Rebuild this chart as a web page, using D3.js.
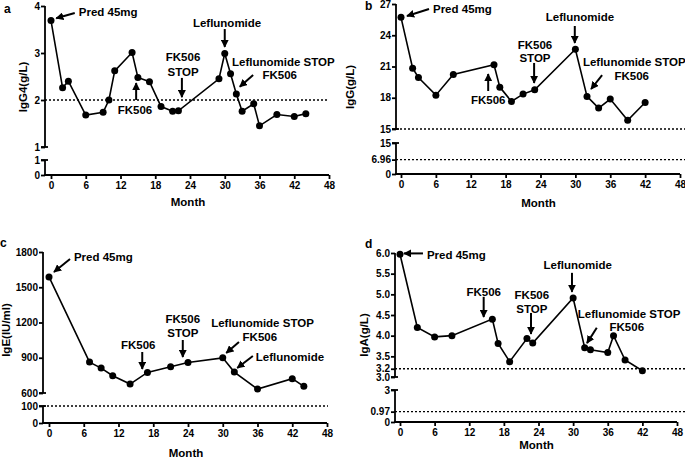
<!DOCTYPE html>
<html lang="en">
<head>
<meta charset="UTF-8">
<title>Immunoglobulin course</title>
<style>
  body { margin: 0; background: #fff; }
  svg { display: block; font-family: "Liberation Sans", Arial, sans-serif; font-weight: bold; }
  .tick text { font-size: 10px; font-weight: bold; fill: #000; }
  .tick line, .axisline { stroke: #000; stroke-width: 1.8; }
  .note { font-size: 11.5px; }
</style>
</head>
<body>
<script src="https://d3js.org/d3.v7.min.js"></script>
<script>
// month of each measurement and the measured value
const monthsA = [0, 2, 3, 6, 9, 10, 11, 14, 15, 17, 19, 21, 22, 29, 30, 31, 32, 33, 35, 36, 39, 42, 44];
const igg4    = [3.69, 2.26, 2.40, 1.68, 1.74, 2.0, 2.62, 3.01, 2.48, 2.39, 1.86, 1.76, 1.77, 2.45, 2.99, 2.56, 2.13, 1.76, 1.92, 1.45, 1.69, 1.65, 1.71];

const monthsB = [0, 2, 3, 6, 9, 16, 17, 19, 21, 23, 30, 32, 34, 36, 39, 42];
const igg     = [25.72, 20.84, 19.95, 18.25, 20.23, 21.16, 19.02, 17.65, 18.35, 18.77, 22.66, 18.13, 17.01, 17.87, 15.83, 17.55];

const monthsC = [0, 7, 9, 11, 14, 17, 21, 24, 30, 32, 36, 42, 44];
const ige     = [1588, 863, 812, 747, 676, 775, 823, 860, 899, 778, 634, 722, 657];

const monthsD = [0, 3, 6, 9, 16, 17, 19, 22, 23, 30, 32, 33, 36, 37, 39, 42];
const iga     = [5.97, 4.20, 3.97, 4.00, 4.40, 3.81, 3.37, 3.93, 3.82, 4.91, 3.71, 3.66, 3.59, 4.00, 3.41, 3.15];

const monthTicks = [0, 6, 12, 18, 24, 30, 36, 42, 48];

// broken y axes: upper and lower segment ticks
const ticksAUp = [1, 2, 3, 4],             ticksALow = [0, 1];
const ticksBUp = [15, 18, 21, 24, 27],     ticksBLow = [0, 6.96, 15];
const ticksCUp = [600, 900, 1200, 1500, 1800], ticksCLow = [0, 100];
const ticksDUp = [3.0, 3.2, 3.5, 4.0, 4.5, 5.0, 5.5, 6.0], ticksDLow = [0, 0.97, 3];

// treatment notes (month, value) and arrows (from -> tip)
const notesA = [
  { t: "Pred 45mg", m: 4.8, v: 3.79, a: "start" },
  { t: "Leflunomide", m: 30.4, v: 3.55, a: "middle" },
  { t: "Leflunomide STOP", m: 31.25, v: 2.72, a: "start" },
  { t: "FK506", m: 39.5, v: 2.45, a: "middle" },
  { t: "FK506", m: 14.5, v: 1.70, a: "middle" },
  { t: "FK506", m: 22.8, v: 2.83, a: "middle" },
  { t: "STOP", m: 22.8, v: 2.51, a: "middle" }
];
const arrowsA = [[4.1, 3.85, 0.9, 3.74], [30.0, 3.51, 30.0, 3.13], [34.9, 2.53, 32.6, 2.28],
                 [14.7, 2.0, 14.7, 2.36], [22.6, 2.47, 22.6, 2.06]];

const notesB = [
  { t: "Pred 45mg", m: 5.5, v: 26.14, a: "start" },
  { t: "Leflunomide", m: 30.8, v: 25.37, a: "middle" },
  { t: "FK506", m: 23.05, v: 22.68, a: "middle" },
  { t: "STOP", m: 23.05, v: 21.43, a: "middle" },
  { t: "Leflunomide STOP", m: 31.3, v: 21.05, a: "start" },
  { t: "FK506", m: 39.7, v: 19.70, a: "middle" },
  { t: "FK506", m: 15.0, v: 17.4, a: "middle" }
];
const arrowsB = [[4.82, 26.52, 1.03, 25.85], [29.9, 24.89, 29.9, 23.26], [22.9, 21.34, 22.9, 19.42],
                 [34.6, 20.18, 32.7, 18.84], [15.0, 18.65, 15.0, 20.28]];

const notesC = [
  { t: "Pred 45mg", m: 4.3, v: 1723, a: "start" },
  { t: "FK506", m: 15.4, v: 974, a: "middle" },
  { t: "FK506", m: 23.1, v: 1196, a: "middle" },
  { t: "STOP", m: 23.1, v: 1077, a: "middle" },
  { t: "Leflunomide STOP", m: 28.0, v: 1162, a: "start" },
  { t: "FK506", m: 36.4, v: 1043, a: "middle" },
  { t: "Leflunomide", m: 35.7, v: 872, a: "start" }
];
const arrowsC = [[3.63, 1740, 0.86, 1630], [16.1, 949, 16.1, 804], [23.1, 1051, 23.1, 906],
                 [32.8, 1034, 30.6, 940], [35.2, 915, 32.5, 813]];

const notesD = [
  { t: "Pred 45mg", m: 4.67, v: 5.855, a: "start" },
  { t: "FK506", m: 14.5, v: 4.96, a: "middle" },
  { t: "FK506", m: 22.85, v: 4.89, a: "middle" },
  { t: "STOP", m: 22.85, v: 4.55, a: "middle" },
  { t: "Leflunomide", m: 30.8, v: 5.61, a: "middle" },
  { t: "Leflunomide STOP", m: 30.8, v: 4.43, a: "start" },
  { t: "FK506", m: 39.3, v: 4.11, a: "middle" }
];
const arrowsD = [[3.98, 5.99, 0.69, 5.99], [14.5, 4.94, 14.5, 4.45], [22.7, 4.55, 22.7, 4.04],
                 [29.8, 5.52, 29.8, 5.06], [34.1, 4.19, 32.4, 3.82]];

const panels = [
  { id: "a", months: monthsA, values: igg4, yLabel: "IgG4(g/L)",
    up: ticksAUp, low: ticksALow, refUp: 2, refLow: null, notes: notesA, arrows: arrowsA,
    fmtUp: d3.format("d"), fmtLow: d3.format("d"),
    ax: 45, xr: [51, 329], ur: [147, 6], lr: [175, 160], tickY: 175, monthY: 206,
    refEnd: 329, letter: [4, 13], yl: [23, 87] },
  { id: "b", months: monthsB, values: igg, yLabel: "IgG(g/L)",
    up: ticksBUp, low: ticksBLow, refUp: 15, refLow: 6.96, notes: notesB, arrows: arrowsB,
    fmtUp: d3.format("d"), fmtLow: d => String(d),
    ax: 396, xr: [401, 680], ur: [129, 4], lr: [174, 143], tickY: 174, monthY: 207,
    refEnd: 685, letter: [365, 10], yl: [350, 87] },
  { id: "c", months: monthsC, values: ige, yLabel: "IgE(IU/ml)",
    up: ticksCUp, low: ticksCLow, refUp: null, refLow: 100, notes: notesC, arrows: arrowsC,
    fmtUp: d3.format("d"), fmtLow: d3.format("d"),
    ax: 43, xr: [49, 327], ur: [393, 252], lr: [423, 406], tickY: 423, monthY: 457,
    refEnd: 328, letter: [0, 247], yl: [6, 330] },
  { id: "d", months: monthsD, values: iga, yLabel: "IgA(g/L)",
    up: ticksDUp, low: ticksDLow, refUp: 3.2, refLow: 0.97, notes: notesD, arrows: arrowsD,
    fmtUp: d3.format(".1f"), fmtLow: d => String(d),
    ax: 395, xr: [400, 677], ur: [377, 253], lr: [422, 390], tickY: 422, monthY: 449,
    refEnd: 685, letter: [365, 248], yl: [364, 335] }
];

const svg = d3.select("body").append("svg")
  .attr("width", 685)
  .attr("height", 458);

svg.append("defs").append("marker")
  .attr("id", "head")
  .attr("viewBox", "0 0 10 10")
  .attr("refX", 9).attr("refY", 5)
  .attr("markerUnits", "userSpaceOnUse")
  .attr("markerWidth", 8).attr("markerHeight", 8)
  .attr("orient", "auto")
  .append("path")
  .attr("d", "M0,0 L10,5 L0,10 Z")
  .attr("fill", "#000");

panels.forEach(p => {
  const g = svg.append("g").attr("class", "panel-" + p.id);

  const x = d3.scaleLinear().domain([0, 48]).range(p.xr);
  const yUp = d3.scaleLinear().domain(d3.extent(p.up)).range(p.ur);
  const yLow = d3.scaleLinear().domain(d3.extent(p.low)).range(p.lr);

  // upper segment
  const upAxis = g.append("g")
    .attr("transform", `translate(${p.ax},0)`)
    .call(d3.axisLeft(yUp).tickValues(p.up).tickFormat(p.fmtUp).tickSize(4).tickSizeOuter(0));
  upAxis.select(".domain").remove();
  upAxis.selectAll(".tick text").attr("x", -5);
  g.append("line").attr("class", "axisline")
    .attr("x1", p.ax).attr("x2", p.ax)
    .attr("y1", yUp.range()[1]).attr("y2", yUp.range()[0]);
  // little cap at the break
  g.append("line").attr("class", "axisline")
    .attr("x1", p.ax - 4).attr("x2", p.ax + 3)
    .attr("y1", yUp.range()[0]).attr("y2", yUp.range()[0]);

  // lower segment
  const lowAxis = g.append("g")
    .attr("transform", `translate(${p.ax},0)`)
    .call(d3.axisLeft(yLow).tickValues(p.low).tickFormat(p.fmtLow).tickSize(4).tickSizeOuter(0));
  lowAxis.select(".domain").remove();
  lowAxis.selectAll(".tick text").attr("x", -5);
  g.append("line").attr("class", "axisline")
    .attr("x1", p.ax).attr("x2", p.ax)
    .attr("y1", yLow.range()[1]).attr("y2", yLow.range()[0]);
  g.append("line").attr("class", "axisline")
    .attr("x1", p.ax - 4).attr("x2", p.ax + 3)
    .attr("y1", yLow.range()[1]).attr("y2", yLow.range()[1]);

  // x axis
  const xAxis = g.append("g")
    .attr("transform", `translate(0,${p.tickY})`)
    .call(d3.axisBottom(x).tickValues(monthTicks).tickSize(4).tickSizeOuter(0));
  xAxis.select(".domain").remove();
  xAxis.selectAll(".tick text").attr("y", 7);
  g.append("line").attr("class", "axisline")
    .attr("x1", p.ax - 0.9).attr("x2", x(48))
    .attr("y1", p.tickY).attr("y2", p.tickY);

  g.append("text")
    .attr("x", (p.xr[0] + p.xr[1]) / 2 - 2)
    .attr("y", p.monthY)
    .attr("text-anchor", "middle")
    .attr("font-size", "11.5px")
    .text("Month");

  g.append("text")
    .attr("transform", `translate(${p.yl[0]},${p.yl[1]}) rotate(-90)`)
    .attr("text-anchor", "middle")
    .attr("dominant-baseline", "central")
    .attr("font-size", "11.5px")
    .text(p.yLabel);

  g.append("text")
    .attr("x", p.letter[0]).attr("y", p.letter[1])
    .attr("font-size", "12px")
    .text(p.id);

  // reference lines
  const dash = (yy) => g.append("line")
    .attr("x1", p.ax).attr("x2", p.refEnd)
    .attr("y1", yy).attr("y2", yy)
    .attr("stroke", "#000").attr("stroke-width", 1.4)
    .attr("stroke-dasharray", "2,2");
  if (p.refUp !== null) dash(yUp(p.refUp));
  if (p.refLow !== null) dash(yLow(p.refLow));

  // series
  const line = d3.line().x((d, i) => x(p.months[i])).y(d => yUp(d));
  g.append("path")
    .datum(p.values)
    .attr("d", line)
    .attr("fill", "none")
    .attr("stroke", "#000")
    .attr("stroke-width", 1.6);
  g.selectAll("circle.pt")
    .data(p.values)
    .join("circle")
    .attr("class", "pt")
    .attr("cx", (d, i) => x(p.months[i]))
    .attr("cy", d => yUp(d))
    .attr("r", 3.5)
    .attr("fill", "#000");

  // annotations
  g.selectAll("text.note")
    .data(p.notes)
    .join("text")
    .attr("class", "note")
    .attr("x", d => x(d.m))
    .attr("y", d => yUp(d.v))
    .attr("text-anchor", d => d.a)
    .text(d => d.t);
  g.selectAll("line.arrow")
    .data(p.arrows)
    .join("line")
    .attr("class", "arrow")
    .attr("x1", d => x(d[0])).attr("y1", d => yUp(d[1]))
    .attr("x2", d => x(d[2])).attr("y2", d => yUp(d[3]))
    .attr("stroke", "#000")
    .attr("stroke-width", 2)
    .attr("marker-end", "url(#head)");
});
</script>
</body>
</html>
